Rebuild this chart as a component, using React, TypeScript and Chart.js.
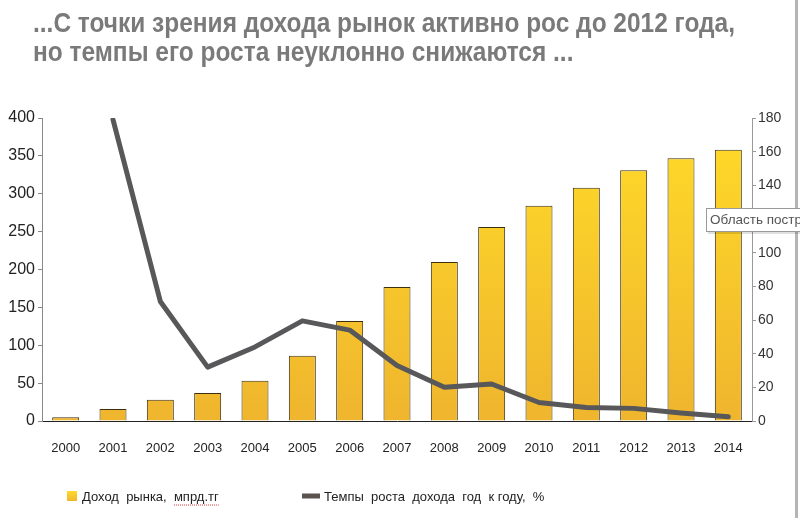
import React, { useEffect, useRef } from "react";
import { Chart, registerables } from "chart.js";

Chart.register(...registerables);

const years = ["2000", "2001", "2002", "2003", "2004", "2005", "2006", "2007", "2008", "2009", "2010", "2011", "2012", "2013", "2014"];
const revenue = [5, 16, 28, 37, 53, 86, 132, 177, 210, 256, 284, 308, 331, 347, 358];
const growth = [null, 179, 71, 32, 44, 59.5, 54, 33, 20, 22, 11, 8, 7.5, 4.7, 2.5];
const leftMax = 400;
const leftStep = 50;
const rightMax = 180;
const rightStep = 20;
const titleLines = ["...С точки зрения дохода рынок активно рос до 2012 года,", "но темпы его роста неуклонно снижаются ..."];
const revenueLabel = "Доход  рынка,  мпрд.тг";
const growthLabel = "Темпы  роста  дохода  год  к году,  %";
const hintText = "Область постр";

const decor = {
  id: "decor",
  afterDraw(chart: any) {
    const ctx = chart.ctx;
    ctx.save();
    // title
    ctx.fillStyle = "#7a7a7a";
    ctx.textBaseline = "alphabetic";
    ctx.textAlign = "left";
    ctx.font = "bold 27px 'Liberation Sans', Arial, sans-serif";
    const w0 = ctx.measureText(titleLines[0]).width;
    const sx = 702 / w0;
    ctx.save();
    ctx.translate(33, 0);
    ctx.scale(sx, 1);
    ctx.fillText(titleLines[0], 0, 32);
    ctx.fillText(titleLines[1], 0, 61);
    ctx.restore();

    // legend
    ctx.font = "13px 'Liberation Sans', Arial, sans-serif";
    ctx.textBaseline = "middle";
    const ly = 496;
    const g = ctx.createLinearGradient(0, ly - 5, 0, ly + 5);
    g.addColorStop(0, "#FFD92E");
    g.addColorStop(1, "#F0B82C");
    ctx.fillStyle = g;
    ctx.fillRect(67, ly - 5, 10, 10);
    ctx.fillStyle = "#222";
    ctx.fillText(revenueLabel, 82, ly + 1);
    const tw = ctx.measureText(revenueLabel).width;
    const mw = ctx.measureText("мпрд.тг").width;
    // spell-check squiggle
    ctx.strokeStyle = "#d33";
    ctx.lineWidth = 1;
    ctx.setLineDash([1, 1]);
    ctx.beginPath();
    ctx.moveTo(82 + tw - mw, ly + 9);
    ctx.lineTo(82 + tw, ly + 9);
    ctx.stroke();
    ctx.setLineDash([]);

    ctx.fillStyle = "#5a524e";
    ctx.fillRect(302, ly - 2.5, 18, 5);
    ctx.fillStyle = "#222";
    ctx.fillText(growthLabel, 324, ly + 1);

    // right gray strip
    ctx.fillStyle = "#b4b4b4";
    ctx.fillRect(795, 0, 3, chart.height);

    // hint box
    ctx.fillStyle = "rgba(0,0,0,0.12)";
    ctx.fillRect(708, 210, 92, 24);
    ctx.fillStyle = "#ffffff";
    ctx.fillRect(706, 208, 94, 24);
    ctx.strokeStyle = "#9a9a9a";
    ctx.lineWidth = 1;
    ctx.strokeRect(706.5, 208.5, 100, 23);
    ctx.fillStyle = "#555";
    ctx.font = "13.5px 'Liberation Sans', Arial, sans-serif";
    ctx.fillText(hintText, 710, 220.5);
    ctx.restore();
  },
};

export default function App() {
  const ref = useRef<HTMLCanvasElement | null>(null);

  useEffect(() => {
    document.body.style.margin = "0";
    const canvas = ref.current!;
    const chart = new Chart(canvas, {
      type: "bar",
      data: {
        labels: years,
        datasets: [
          {
            type: "line",
            label: growthLabel,
            data: growth,
            yAxisID: "y1",
            borderColor: "#58585a",
            borderWidth: 5,
            pointRadius: 0,
            tension: 0,
            borderJoinStyle: "round",
            borderCapStyle: "round",
            order: 0,
          } as any,
          {
            type: "bar",
            label: revenueLabel,
            data: revenue,
            yAxisID: "y",
            backgroundColor: (c: any) => {
              const area = c.chart.chartArea;
              if (!area) return "#FFD92E";
              const gr = c.chart.ctx.createLinearGradient(0, area.top, 0, area.bottom);
              gr.addColorStop(0, "#FFDB28");
              gr.addColorStop(1, "#EFB52E");
              return gr;
            },
            borderColor: "#3b2f10",
            borderWidth: 1,
            borderSkipped: "bottom",
            categoryPercentage: 1,
            barPercentage: 0.57,
            order: 1,
          },
        ],
      },
      options: {
        animation: false,
        responsive: false,
        layout: { padding: { top: 118, left: 0, right: 0, bottom: 0 } },
        plugins: {
          legend: { display: false },
          tooltip: { enabled: false },
          title: { display: false },
        },
        scales: {
          x: {
            grid: { display: false, drawTicks: false },
            border: { color: "#222", width: 1 },
            ticks: {
              color: "#222",
              font: { size: 13, family: "'Liberation Sans', Arial, sans-serif" },
              padding: 20,
              maxRotation: 0,
              autoSkip: false,
            },
            afterFit: (s: any) => {
              s.height = 97;
            },
          },
          y: {
            position: "left",
            min: 0,
            max: leftMax,
            ticks: {
              stepSize: leftStep,
              color: "#222",
              font: { size: 16, family: "'Liberation Sans', Arial, sans-serif" },
              padding: 3,
            },
            grid: { display: true, drawOnChartArea: false, tickLength: 4, color: "#888" },
            border: { color: "#888", width: 1 },
            afterFit: (s: any) => {
              s.width = 42;
            },
          },
          y1: {
            position: "right",
            min: 0,
            max: rightMax,
            ticks: {
              stepSize: rightStep,
              color: "#333",
              font: { size: 14, family: "'Liberation Sans', Arial, sans-serif" },
              padding: 2,
            },
            grid: { display: true, drawOnChartArea: false, tickLength: 4, color: "#999" },
            border: { color: "#999", width: 1 },
            afterFit: (s: any) => {
              s.width = 48;
            },
          },
        },
      },
      plugins: [decor],
    });
    return () => chart.destroy();
  }, []);

  return <canvas ref={ref} width={800} height={518} style={{ display: "block" }} />;
}
